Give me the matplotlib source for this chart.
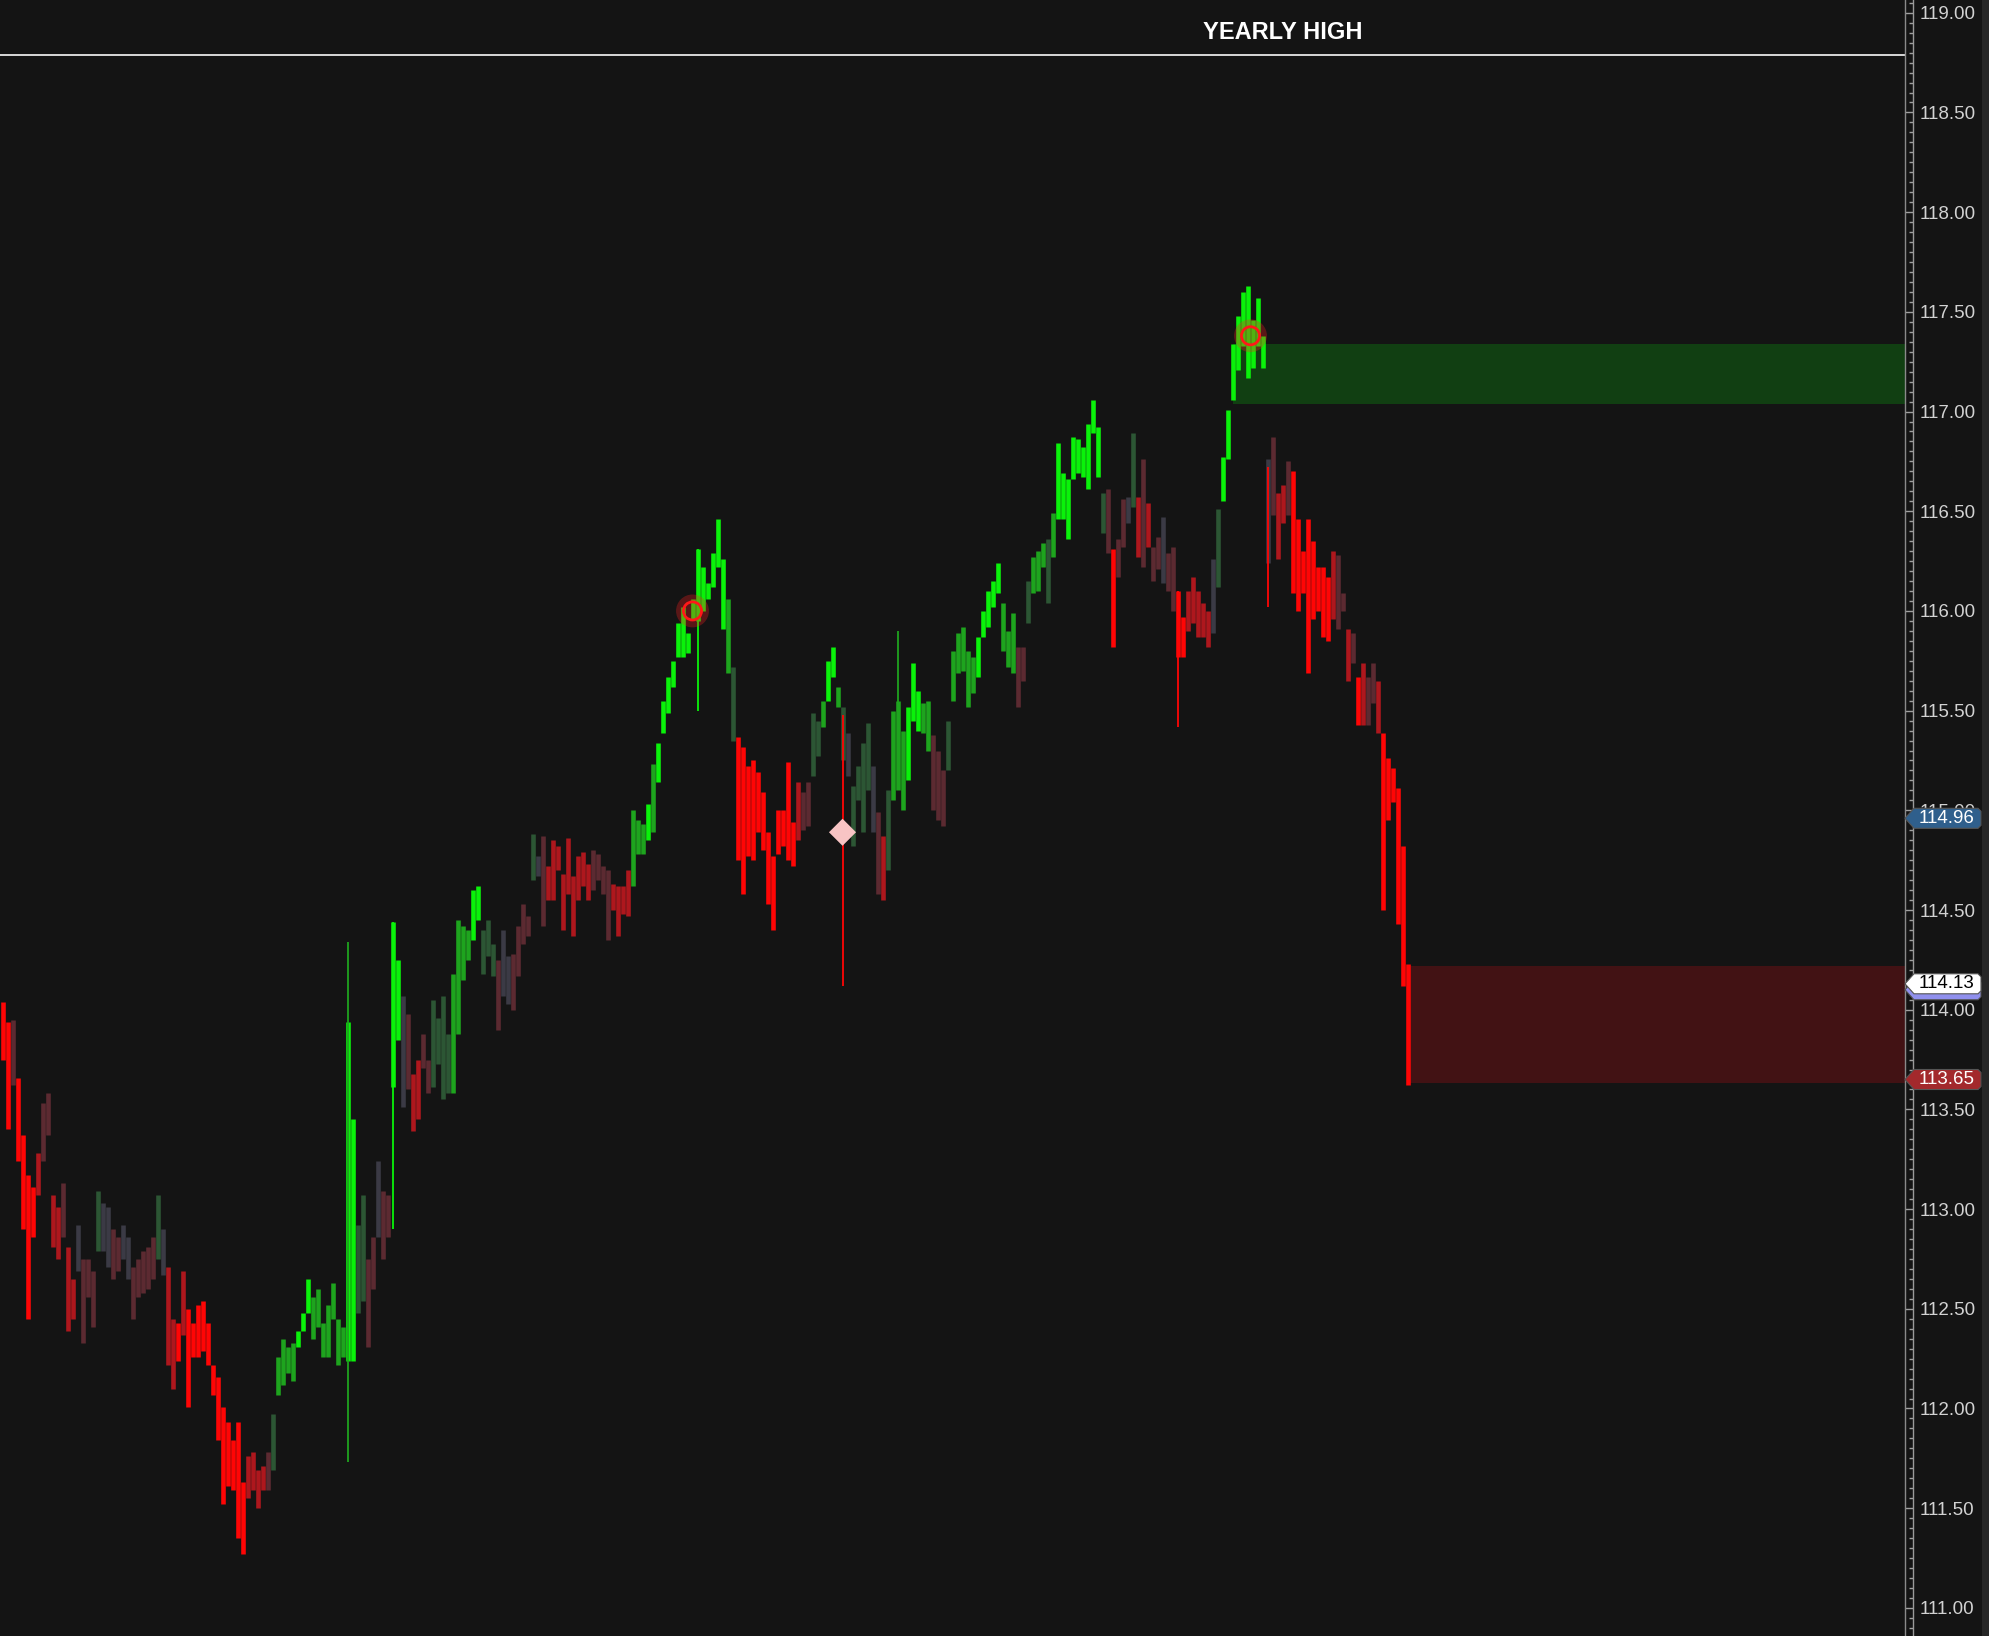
#!/usr/bin/env python3
"""
Price chart with momentum-coloured bars, supply/demand zones and price tags
"""

import numpy as np
import matplotlib
matplotlib.use('Agg')
import matplotlib.pyplot as plt
from matplotlib.patches import Polygon, Rectangle
from matplotlib.ticker import MultipleLocator, FormatStrFormatter
from matplotlib.transforms import IdentityTransform

plt.rcParams['font.family'] = ['Liberation Sans', 'DejaVu Sans']

# bar data: high, low, colour class (one entry per bar)
bar_high = [
    114.04, 113.94, 113.95, 113.66, 113.37, 113.17, 113.11, 113.28, 113.53, 113.58,
    113.07, 113.01, 113.13, 112.81, 112.65, 112.92, 112.75, 112.75, 112.69, 113.09,
    113.03, 113.01, 112.90, 112.86, 112.92, 112.86, 112.71, 112.75, 112.79, 112.81,
    112.86, 113.07, 112.90, 112.71, 112.45, 112.43, 112.69, 112.50, 112.43, 112.52,
    112.54, 112.43, 112.22, 112.16, 112.01, 111.93, 111.84, 111.93, 111.63, 111.76,
    111.78, 111.69, 111.71, 111.78, 111.97, 112.26, 112.35, 112.31, 112.33, 112.39,
    112.48, 112.65, 112.56, 112.60, 112.43, 112.52, 112.63, 112.45, 112.41, 113.94,
    113.45, 112.92, 113.07, 112.75, 112.86, 113.24, 113.09, 113.07, 114.44, 114.25,
    114.07, 113.98, 113.68, 113.75, 113.88, 113.75, 114.05, 113.96, 114.07, 113.88,
    114.18, 114.45, 114.42, 114.40, 114.60, 114.62, 114.40, 114.45, 114.33, 114.25,
    114.40, 114.27, 114.28, 114.42, 114.53, 114.47, 114.88, 114.77, 114.87, 114.72,
    114.85, 114.82, 114.68, 114.86, 114.67, 114.77, 114.79, 114.73, 114.80, 114.78,
    114.72, 114.70, 114.63, 114.62, 114.62, 114.70, 115.00, 114.95, 114.93, 115.03,
    115.23, 115.34, 115.55, 115.67, 115.75, 115.94, 116.02, 115.89, 116.06, 116.31,
    116.22, 116.14, 116.29, 116.46, 116.26, 116.06, 115.72, 115.37, 115.32, 115.22,
    115.25, 115.19, 115.09, 114.89, 114.77, 115.00, 115.00, 115.24, 114.94, 115.14,
    115.09, 115.14, 115.49, 115.45, 115.55, 115.75, 115.82, 115.62, 115.52, 115.39,
    115.12, 115.22, 115.34, 115.44, 115.22, 114.99, 114.87, 115.10, 115.50, 115.55,
    115.40, 115.52, 115.74, 115.60, 115.54, 115.55, 115.38, 115.30, 115.20, 115.45,
    115.80, 115.89, 115.92, 115.80, 115.77, 115.87, 116.00, 116.10, 116.15, 116.24,
    116.04, 115.90, 115.99, 115.82, 115.82, 116.15, 116.27, 116.30, 116.34, 116.36,
    116.49, 116.84, 116.69, 116.66, 116.87, 116.86, 116.82, 116.94, 117.06, 116.92,
    116.59, 116.61, 116.31, 116.36, 116.56, 116.57, 116.89, 116.57, 116.76, 116.54,
    116.32, 116.37, 116.47, 116.29, 116.32, 116.10, 115.97, 116.10, 116.17, 116.10,
    116.04, 116.00, 116.26, 116.51, 116.77, 117.01, 117.34, 117.48, 117.60, 117.63,
    117.46, 117.57, 117.38, 116.76, 116.87, 116.59, 116.63, 116.75, 116.70, 116.46,
    116.30, 116.46, 116.35, 116.22, 116.22, 116.17, 116.30, 116.28, 116.09, 115.91,
    115.89, 115.67, 115.74, 115.67, 115.74, 115.65, 115.39, 115.26, 115.21, 115.11,
    114.82, 114.23,
]
bar_low = [
    113.75, 113.40, 113.62, 113.24, 112.90, 112.45, 112.86, 113.07, 113.24, 113.37,
    112.81, 112.75, 112.86, 112.39, 112.45, 112.69, 112.33, 112.56, 112.41, 112.79,
    112.79, 112.71, 112.65, 112.69, 112.75, 112.65, 112.45, 112.56, 112.58, 112.60,
    112.65, 112.75, 112.67, 112.22, 112.10, 112.24, 112.37, 112.01, 112.26, 112.26,
    112.29, 112.22, 112.07, 111.84, 111.52, 111.61, 111.59, 111.35, 111.27, 111.55,
    111.59, 111.50, 111.59, 111.59, 111.69, 112.07, 112.12, 112.18, 112.14, 112.31,
    112.39, 112.48, 112.35, 112.41, 112.26, 112.26, 112.45, 112.22, 112.26, 112.24,
    112.24, 112.48, 112.54, 112.31, 112.60, 112.86, 112.75, 112.86, 113.61, 113.85,
    113.51, 113.60, 113.39, 113.45, 113.71, 113.58, 113.61, 113.73, 113.55, 113.58,
    113.58, 113.88, 114.15, 114.25, 114.35, 114.45, 114.18, 114.27, 114.17, 113.90,
    114.07, 114.03, 114.00, 114.17, 114.33, 114.37, 114.65, 114.67, 114.42, 114.55,
    114.55, 114.70, 114.40, 114.58, 114.37, 114.55, 114.62, 114.55, 114.60, 114.65,
    114.58, 114.35, 114.50, 114.37, 114.48, 114.47, 114.62, 114.78, 114.78, 114.85,
    114.89, 115.14, 115.39, 115.49, 115.62, 115.77, 115.77, 115.79, 115.96, 115.95,
    116.00, 116.06, 116.12, 116.22, 115.91, 115.69, 115.35, 114.75, 114.58, 114.77,
    114.75, 114.89, 114.80, 114.53, 114.40, 114.78, 114.82, 114.75, 114.72, 114.85,
    114.90, 114.92, 115.17, 115.27, 115.42, 115.55, 115.67, 115.52, 115.25, 115.17,
    114.82, 115.05, 114.89, 115.10, 114.89, 114.58, 114.55, 114.70, 115.05, 115.10,
    115.00, 115.15, 115.45, 115.40, 115.39, 115.30, 115.00, 114.95, 114.92, 115.20,
    115.55, 115.69, 115.70, 115.52, 115.59, 115.67, 115.87, 115.92, 116.02, 116.09,
    115.80, 115.72, 115.69, 115.52, 115.65, 115.94, 116.09, 116.10, 116.22, 116.04,
    116.27, 116.46, 116.46, 116.36, 116.66, 116.69, 116.67, 116.61, 116.89, 116.67,
    116.39, 116.29, 115.82, 116.17, 116.32, 116.44, 116.52, 116.27, 116.22, 116.32,
    116.15, 116.21, 116.14, 116.10, 116.00, 115.77, 115.77, 115.90, 115.94, 115.87,
    115.87, 115.82, 115.89, 116.12, 116.55, 116.76, 117.06, 117.21, 117.33, 117.17,
    117.22, 117.33, 117.22, 116.24, 116.48, 116.26, 116.44, 116.48, 116.09, 116.00,
    116.09, 115.69, 115.96, 116.00, 115.87, 115.85, 115.96, 115.91, 116.00, 115.65,
    115.74, 115.43, 115.43, 115.43, 115.54, 115.39, 114.50, 114.95, 115.04, 114.43,
    114.12, 113.62,
]
# G bright green, g green, d dark green, n neutral, m maroon, r red, R bright red
bar_class = "".join([
    "RRmRRRRrmm", "rrmrrnmmmd", "nnmmnnmmmm", "mdnrrRrRRR", "RRRRRRRRRr",
    "rrrmdggggG", "GGgggggggG", "GddmmnmmGG", "nmrrmmdddd", "ggggGGdddm",
    "nnmmmmdnmr", "rrrrrrrrmm", "mmrrrrgggG", "gGGGGGGGGG", "GGGGGgdRRR",
    "RRRRRRRRRr", "mmddgGGgdn", "ddddnmrdgg", "gGGGggmmmd", "gggggGGGGG",
    "gggmmdgggd", "gGGGGGGGGG", "dmRmmndrmr", "mmnmmRRrrr", "rrndGGGGGG",
    "GGGnmrrmRR", "RRRRRRrmmr", "mRrmmrRRRR", "RR",
])

# thin wicks drawn over some bars: bar number (1-based), high, low, class
wick_bar = [70, 79, 140, 169, 180, 236, 254]
wick_high = [114.34, 114.44, 116.31, 115.48, 115.90, 116.10, 116.72]
wick_low = [111.73, 112.90, 115.50, 114.12, 115.10, 115.42, 116.02]
wick_class = ['g', 'G', 'G', 'R', 'g', 'R', 'R']

# zones: start bar position, low, high
green_zone = [246.1, 117.04, 117.34]
red_zone = [280.9, 113.63, 114.22]

yearly_high = 118.79
signal_circles_x = [138.0, 249.6]
signal_circles_y = [116.00, 117.38]
diamond_x = [168.0]
diamond_y = [114.89]

# price tags on the axis: price, face, text colour
tag_prices = [114.96, 114.10, 114.13, 113.65]
tag_faces = ['#2f5f8c', '#9090ee', '#ffffff', '#a3292c']
tag_text = ['#ffffff', None, '#000000', '#ffffff']

class_colors = {
    'G': '#0af20a',
    'g': '#1ea41e',
    'd': '#2c5634',
    'n': '#3b3a45',
    'm': '#5c2a31',
    'r': '#ae171d',
    'R': '#ff0505',
}

BG = '#141414'
W, H = 1989, 1636
fig = plt.figure(figsize=(W / 100, H / 100), dpi=100, facecolor=BG)
ax = fig.add_axes([0, 0, 1913 / W, 1])
ax.set_facecolor(BG)
ax.set_xlim(-0.5, 382.1)
ax.set_ylim(110.859, 119.064)

n = len(bar_high)
xs = np.arange(n)
cols = [class_colors[c] for c in bar_class[:n]]
ax.vlines(xs, bar_low, bar_high, colors=cols, linewidth=3.3, zorder=3)

wx = np.array(wick_bar) - 1
ax.vlines(wx, wick_low, wick_high, colors=[class_colors[c] for c in wick_class],
          linewidth=1.3, zorder=3)

right_edge = 380.5
for (x0, lo, hi), fc in [(green_zone, '#113f12'), (red_zone, '#421214')]:
    ax.add_patch(Rectangle((x0, lo), right_edge - x0, hi - lo, facecolor=fc,
                           edgecolor='none', zorder=2))

# yearly high line and label
ax.hlines(yearly_high, -0.5, right_edge, color='#d8d8d8', linewidth=1.4, zorder=4)
ax.text(256, 118.90, 'YEARLY HIGH', color='#ffffff', fontsize=17, fontweight='bold',
        ha='center', va='center', zorder=5)

# signal markers
ax.scatter(signal_circles_x, signal_circles_y, s=560, color='#ff2020', alpha=0.3,
           edgecolors='none', zorder=5)
ax.scatter(signal_circles_x, signal_circles_y, s=170, facecolors='none',
           edgecolors='#ff1818', linewidths=2.0, zorder=6)
ax.scatter(diamond_x, diamond_y, s=190, marker='D', color='#f8c4c4',
           edgecolors='none', zorder=6)

# axis styling
ax.axvline(right_edge, color='#8a8a8a', linewidth=1.0, zorder=4)
for side in ['left', 'top', 'bottom']:
    ax.spines[side].set_visible(False)
ax.spines['right'].set_color('#9a9a9a')
ax.spines['right'].set_linewidth(1.0)
ax.xaxis.set_visible(False)
ax.yaxis.tick_right()
ax.yaxis.set_major_locator(MultipleLocator(0.5))
ax.yaxis.set_minor_locator(MultipleLocator(0.05))
ax.yaxis.set_major_formatter(FormatStrFormatter('%.2f'))
ax.tick_params(axis='y', which='major', direction='in', length=6, width=1,
               color='#a0a0a0', labelcolor='#d2d2d2', labelsize=13.5, pad=5)
ax.tick_params(axis='y', which='minor', direction='in', length=3, width=1,
               color='#a0a0a0')

# right edge strip
fig.add_artist(Rectangle((1982, 0), 7, H, transform=IdentityTransform(),
                         facecolor='#262626', edgecolor='none', zorder=1))

# price tags
for price, face, tcol in zip(tag_prices, tag_faces, tag_text):
    yc = ax.transData.transform((0, price))[1]
    h = 10
    verts = [(1905, yc), (1914, yc + h), (1978, yc + h), (1981, yc + h - 3),
             (1981, yc - h + 3), (1978, yc - h), (1914, yc - h)]
    fig.add_artist(Polygon(verts, closed=True, transform=IdentityTransform(),
                           facecolor=face, edgecolor='#555555', linewidth=0.8,
                           zorder=5))
    if tcol:
        fig.text(1919 / W, yc / H, f'{price:.2f}', color=tcol, fontsize=13.5,
                 ha='left', va='center', zorder=6)

fig.savefig('out.png', dpi=100, facecolor=BG)
